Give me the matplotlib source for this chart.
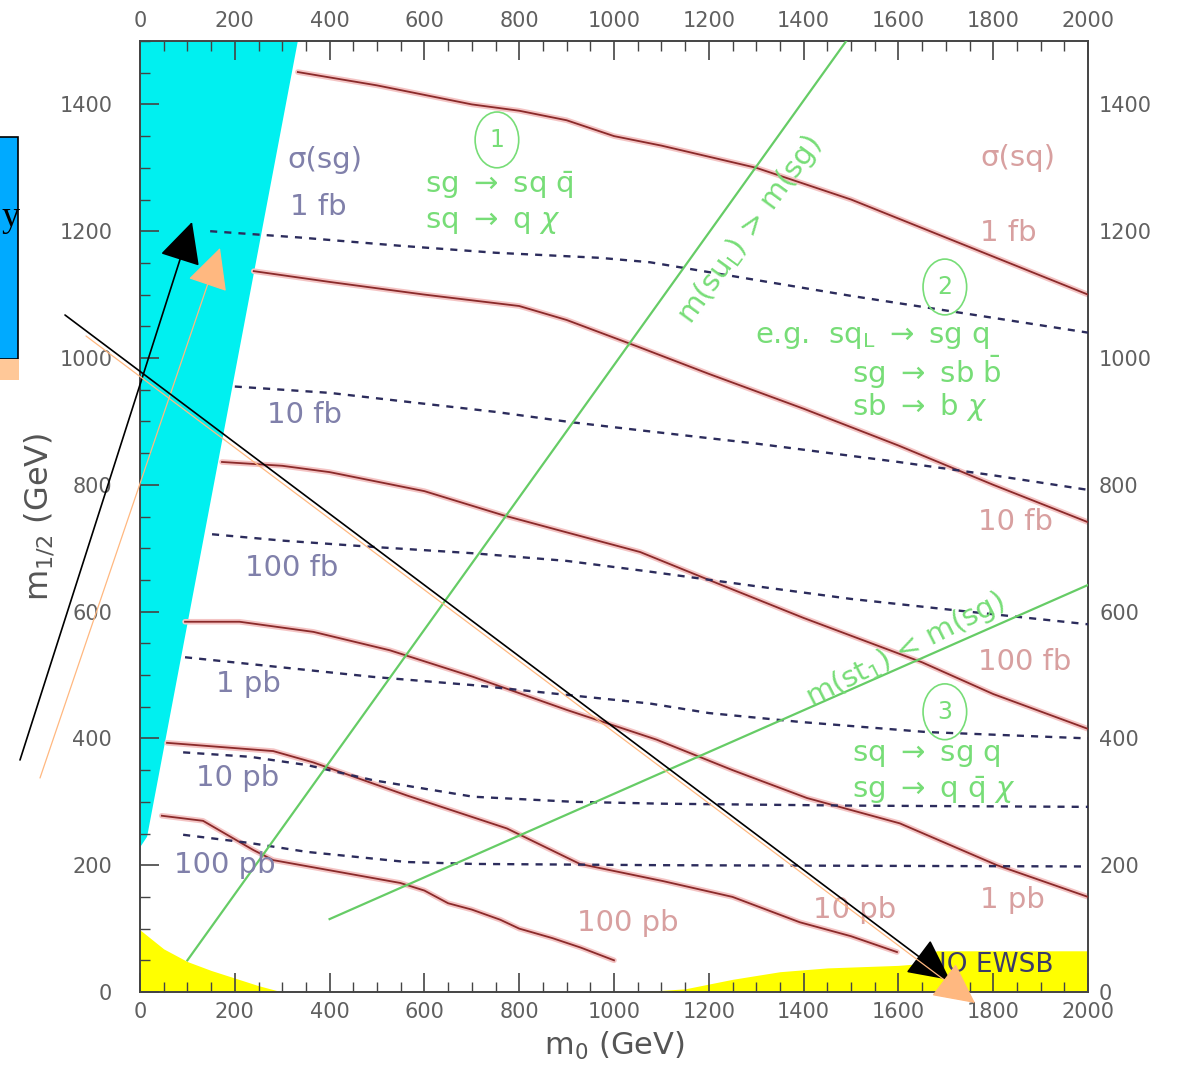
import matplotlib
matplotlib.use("Agg")
import matplotlib.pyplot as plt
from matplotlib.patches import Ellipse, Rectangle, FancyArrowPatch

# squark (red, solid) cross-section contours, m0 / m1/2 in GeV
sq_1fb_x = [333, 500, 700, 800, 900, 1000, 1100, 1300, 1500, 1750, 2000]
sq_1fb_y = [1451, 1430, 1400, 1390, 1375, 1350, 1335, 1300, 1250, 1175, 1100]
sq_10fb_x = [240, 400, 600, 800, 900, 1050, 1200, 1400, 1600, 1800, 2000]
sq_10fb_y = [1137, 1120, 1100, 1082, 1060, 1018, 975, 920, 862, 800, 741]
sq_100fb_x = [173, 300, 400, 600, 766, 900, 1055, 1200, 1400, 1650, 1800, 2000]
sq_100fb_y = [836, 830, 820, 790, 752, 725, 694, 650, 590, 520, 470, 415]
sq_1pb_x = [95, 210, 366, 527, 703, 900, 1090, 1250, 1407, 1603, 1808, 2000]
sq_1pb_y = [584, 584, 568, 539, 497, 445, 398, 350, 306, 266, 200, 150]
sq_10pb_x = [57, 281, 366, 563, 774, 928, 1103, 1250, 1392, 1500, 1597]
sq_10pb_y = [393, 380, 362, 310, 258, 202, 175, 150, 110, 88, 63]
sq_100pb_x = [46, 133, 239, 281, 549, 600, 650, 700, 760, 800, 870, 930, 1000]
sq_100pb_y = [278, 270, 224, 208, 172, 160, 140, 130, 114, 100, 85, 70, 50]

# gluino (dashed) cross-section contours
sg_1fb_x = [148, 338, 549, 750, 970, 1076, 1300, 1500, 1700, 2000]
sg_1fb_y = [1200, 1190, 1177, 1166, 1158, 1151, 1123, 1098, 1075, 1040]
sg_10fb_x = [200, 400, 563, 750, 907, 1055, 1300, 1600, 1800, 2000]
sg_10fb_y = [955, 945, 931, 915, 899, 886, 865, 836, 815, 792]
sg_100fb_x = [152, 300, 492, 703, 900, 1076, 1300, 1500, 1709, 2000]
sg_100fb_y = [722, 712, 702, 692, 680, 663, 640, 620, 603, 580]
sg_1pb_x = [95, 300, 492, 703, 844, 1076, 1200, 1392, 1660, 2000]
sg_1pb_y = [528, 512, 497, 484, 473, 455, 440, 426, 410, 400]
sg_10pb_x = [91, 232, 352, 492, 703, 914, 1103, 1500, 2000]
sg_10pb_y = [378, 371, 358, 334, 308, 300, 297, 294, 292]
sg_100pb_x = [91, 232, 352, 563, 703, 1103, 2000]
sg_100pb_y = [248, 235, 221, 205, 202, 200, 198]

# mass-ordering boundaries
su_sg_x = [100, 1490]
su_sg_y = [50, 1500]
st_sg_x = [400, 2000]
st_sg_y = [115, 642]

# excluded regions
cyan_x = [0, 333, 15, 0]
cyan_y = [1500, 1500, 245, 228]
yel_left_x = [0, 50, 100, 150, 200, 250, 300]
yel_left_y = [98, 68, 48, 34, 22, 10, 0]
yel_right_x = [1050, 1150, 1250, 1350, 1450, 1600, 1650, 1680, 2000]
yel_right_y = [0, 5, 20, 32, 38, 42, 45, 65, 65]

sq_curves = [(sq_1fb_x, sq_1fb_y), (sq_10fb_x, sq_10fb_y), (sq_100fb_x, sq_100fb_y),
             (sq_1pb_x, sq_1pb_y), (sq_10pb_x, sq_10pb_y), (sq_100pb_x, sq_100pb_y)]
sg_curves = [(sg_1fb_x, sg_1fb_y), (sg_10fb_x, sg_10fb_y), (sg_100fb_x, sg_100fb_y),
             (sg_1pb_x, sg_1pb_y), (sg_10pb_x, sg_10pb_y), (sg_100pb_x, sg_100pb_y)]

# contour labels
sg_labels = ["σ(sg)", "1 fb", "10 fb", "100 fb", "1 pb", "10 pb", "100 pb"]
sg_label_x = [390, 376, 348, 321, 228, 207, 179]
sg_label_y = [1312, 1238, 910, 669, 486, 338, 200]
sq_labels = ["σ(sq)", "1 fb", "10 fb", "100 fb", "1 pb", "10 pb", "100 pb"]
sq_label_x = [1852, 1831, 1846, 1867, 1840, 1508, 1030]
sq_label_y = [1315, 1197, 741, 520, 145, 129, 109]

xticks = list(range(0, 2001, 200))
yticks = list(range(0, 1401, 200))

red = "#8a2a2a"
halo = "#f4c4c4"
navy = "#2c2c5c"
green = "#66cc66"
lgreen = "#77dd77"
tick_grey = "#606060"

W, H = 1181, 1069
fig = plt.figure(figsize=(W / 100, H / 100), dpi=100)
ax = fig.add_axes([140 / W, 1 - 992 / H, 948 / W, 951 / H])
ax.set_xlim(0, 2000)
ax.set_ylim(0, 1500)

ax.fill(cyan_x, cyan_y, color="#00f0f0", lw=0, zorder=1)
ax.fill_between(yel_left_x, yel_left_y, 0, color="#ffff00", lw=0, zorder=1)
ax.fill_between(yel_right_x, yel_right_y, 0, color="#ffff00", lw=0, zorder=1)

for cx, cy in sq_curves:
    ax.plot(cx, cy, color=halo, lw=4, zorder=2, solid_capstyle="round")
    ax.plot(cx, cy, color=red, lw=1.3, zorder=3)
for cx, cy in sg_curves:
    ax.plot(cx, cy, color=navy, lw=1.7, ls=(0, (3, 3)), zorder=3)

ax.plot(su_sg_x, su_sg_y, color=green, lw=1.6, zorder=3)
ax.plot(st_sg_x, st_sg_y, color=green, lw=1.6, zorder=3)

for t, x, y in zip(sg_labels, sg_label_x, sg_label_y):
    ax.text(x, y, t, color="#8080aa", fontsize=21, ha="center", va="center", zorder=4)
for t, x, y in zip(sq_labels, sq_label_x, sq_label_y):
    ax.text(x, y, t, color="#d8a0a0", fontsize=21, ha="center", va="center", zorder=4)

ax.text(1793, 43, "NO EWSB", color="#3a3a6a", fontsize=19, ha="center", va="center", zorder=4)

# decay regions
for num, cx, cy in [("1", 753, 1344), ("2", 1698, 1112), ("3", 1698, 442)]:
    ax.add_patch(Ellipse((cx, cy), 92, 88, fill=False, ec=lgreen, lw=1.2, zorder=4))
    ax.text(cx, cy, num, color=lgreen, fontsize=17, ha="center", va="center", zorder=4)

gkw = dict(color=lgreen, fontsize=21, va="center", zorder=4)
ax.text(601, 1273, r"sg $\rightarrow$ sq $\bar{\mathrm{q}}$", **gkw)
ax.text(601, 1215, r"sq $\rightarrow$ q $\chi$", **gkw)
ax.text(1297, 1033, r"e.g.  sq$_{\mathrm{L}}$ $\rightarrow$ sg q", **gkw)
ax.text(1502, 978, r"sg $\rightarrow$ sb $\bar{\mathrm{b}}$", **gkw)
ax.text(1502, 923, r"sb $\rightarrow$ b $\chi$", **gkw)
ax.text(1502, 374, r"sq $\rightarrow$ sg q", **gkw)
ax.text(1502, 319, r"sg $\rightarrow$ q $\bar{\mathrm{q}}$ $\chi$", **gkw)
ax.text(1287, 1202, r"m(su$_{\mathrm{L}}$) > m(sg)", color=lgreen, fontsize=21,
        rotation=54, ha="center", va="center", zorder=4)
ax.text(1614, 540, r"m(st$_{1}$) < m(sg)", color=lgreen, fontsize=21,
        rotation=27, ha="center", va="center", zorder=4)

# axes and ticks
ax.set_xticks(xticks)
ax.set_yticks(yticks)
ax.set_xticks(range(0, 2001, 50), minor=True)
ax.set_yticks(range(0, 1501, 50), minor=True)
ax.tick_params(which="both", direction="in", top=True, right=True, color="#444444")
ax.tick_params(which="major", length=14, width=1.2)
ax.tick_params(which="minor", length=7, width=1.0)
ax.tick_params(axis="x", labeltop=True, labelsize=15, labelcolor=tick_grey, pad=7)
ax.tick_params(axis="y", labelsize=15, labelcolor=tick_grey, pad=20)
for s in ax.spines.values():
    s.set_color("#444444")
    s.set_linewidth(1.4)

ax2 = ax.twinx()
ax2.set_ylim(0, 1500)
ax2.set_yticks(yticks)
ax2.tick_params(axis="y", length=0, labelsize=15, labelcolor=tick_grey, pad=8)
for s in ax2.spines.values():
    s.set_visible(False)

ax.set_xlabel(r"m$_0$ (GeV)", fontsize=22, color="#555555", labelpad=6)
ax.set_ylabel(r"m$_{1/2}$ (GeV)", fontsize=23, color="#555555", labelpad=2)

# overlay drawn in image pixels
ov = fig.add_axes([0, 0, 1, 1], zorder=10)
ov.set_xlim(0, W)
ov.set_ylim(H, 0)
ov.axis("off")
ov.patch.set_alpha(0)

box = Rectangle((-2, 137), 20, 222, fc="#00aaff", ec="black", lw=1.2)
ov.add_patch(box)
ov.add_patch(Rectangle((0, 359), 19, 21, fc="#ffc898", ec="none"))
ov.text(1, 218, "y", fontsize=26, family="Liberation Serif", ha="left", va="center")

arrows = [((20, 760), (192, 222), "black", 1.2),
          ((40, 778), (220, 248), "#ffb880", 0.9),
          ((65, 315), (950, 980), "black", 1.2),
          ((86, 336), (975, 1003), "#ffb880", 0.9)]
for (x0, y0), (x1, y1), c, lw in arrows:
    ov.add_patch(FancyArrowPatch((x0, y0), (x1, y1), arrowstyle="-|>,head_length=12,head_width=6",
                                 color=c, lw=lw, mutation_scale=2.2, shrinkA=0, shrinkB=0))

fig.savefig("out.png", dpi=100, facecolor="white")
